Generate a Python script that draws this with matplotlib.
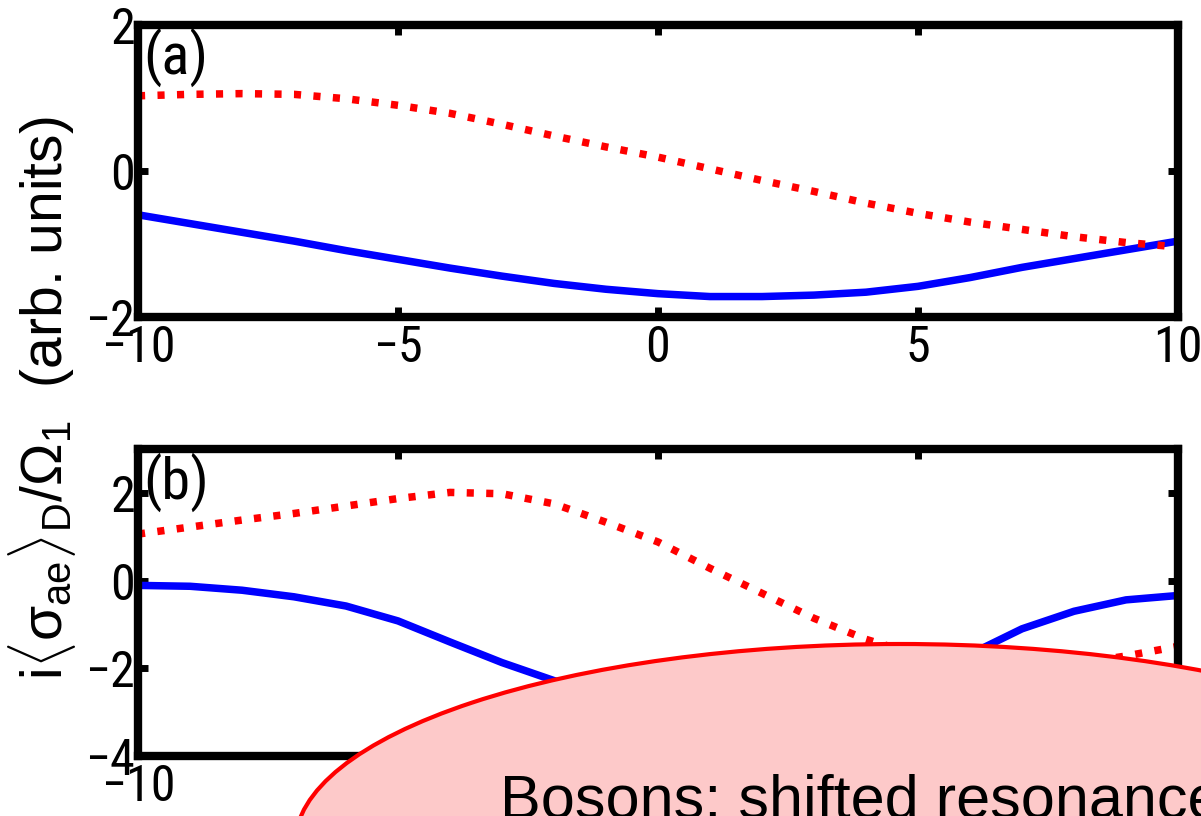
import os
import matplotlib
matplotlib.use('Agg')
import matplotlib.pyplot as plt
from matplotlib import font_manager as fm
from matplotlib.patches import Ellipse

# ---- data ----
x_vals = [-10, -9, -8, -7, -6, -5, -4, -3, -2, -1, 0, 1, 2, 3, 4, 5, 6, 7, 8, 9, 10]
a_red = [1.03, 1.05, 1.06, 1.05, 0.99, 0.90, 0.79, 0.64, 0.48, 0.33, 0.19,
         0.03, -0.13, -0.28, -0.44, -0.58, -0.70, -0.80, -0.90, -0.98, -1.04]
a_blue = [-0.60, -0.72, -0.84, -0.96, -1.09, -1.21, -1.33, -1.44, -1.54, -1.62, -1.68,
          -1.72, -1.72, -1.70, -1.66, -1.58, -1.46, -1.32, -1.20, -1.08, -0.96]
b_red = [1.06, 1.22, 1.38, 1.53, 1.70, 1.87, 2.01, 1.98, 1.75, 1.33, 0.88,
         0.28, -0.29, -0.86, -1.34, -1.70, -1.90, -1.95, -1.90, -1.72, -1.50]
b_blue = [-0.11, -0.13, -0.22, -0.37, -0.58, -0.92, -1.40, -1.87, -2.28, -2.65, -2.92,
          -3.08, -3.12, -3.02, -2.75, -2.25, -1.68, -1.10, -0.70, -0.44, -0.34]
x_ticks = [-10, -5, 0, 5, 10]
a_xticklabels = ['\u221210', '\u22125', '0', '5', '10']
b_xticklabels = ['\u221210', '', '', '', '']   # the rest are hidden under the callout
a_yticks = [-2, 0, 2]
b_yticks = [-4, -2, 0, 2]
a_ylim = (-2, 2)
b_ylim = (-4, 3)
panel_labels = ['(a)', '(b)']
ylabel = r'i$\langle\sigma_{ae}\rangle_D/\Omega_1$  (arb. units)'
callout = 'Bosons: shifted resonance'

SANS = ['Liberation Sans', 'DejaVu Sans']
plt.rcParams['font.family'] = SANS
plt.rcParams['mathtext.fontset'] = 'custom'
plt.rcParams['mathtext.rm'] = 'Liberation Sans'
plt.rcParams['mathtext.it'] = 'Liberation Sans'
plt.rcParams['mathtext.sf'] = 'Liberation Sans'


def find_narrow_font():
    """Pick an installed narrow/condensed regular sans font, if any."""
    bad = ('bold', 'italic', 'oblique', 'light', 'medium', 'black', 'thin',
           'extra', 'semibold', 'heavy', 'mono', 'serif', 'cjk')
    prefs = ('liberation', 'arial', 'roboto', 'opensans', 'open', 'noto', 'dejavu', 'lato', 'inter')
    cands = []
    for f in fm.fontManager.ttflist:
        base = os.path.basename(f.fname).lower()
        if not ('narrow' in base or 'condensed' in base or
                str(f.stretch) in ('condensed', 'semi-condensed')):
            continue
        stem = base.replace('semicondensed', '').replace('condensed', '').replace('narrow', '')
        if any(b in stem for b in bad):
            continue
        if 'serif' in f.name.lower() and 'sans' not in f.name.lower():
            continue
        rank = len(prefs)
        for i, p in enumerate(prefs):
            if p in base.replace('-', '').replace('_', ''):
                rank = i
                break
        cands.append((rank, base, f.fname))
    if cands:
        cands.sort()
        return fm.FontProperties(fname=cands[0][2]), True
    return fm.FontProperties(family='Liberation Sans'), False


narrow_fp, is_narrow = find_narrow_font()
tick_size = 36 if is_narrow else 30
lab_size = 42 if is_narrow else 34

W, H = 1201, 816
fig = plt.figure(figsize=(W / 100, H / 100), dpi=100)


def px_axes(left, top, right, bottom):
    return fig.add_axes([left / W, 1 - bottom / H, (right - left) / W, (bottom - top) / H])


ax_a = px_axes(138, 25, 1178, 317)
ax_b = px_axes(138, 449, 1178, 756)

for ax, red, blue, ylim, yt, xtl, lab in [
        (ax_a, a_red, a_blue, a_ylim, a_yticks, a_xticklabels, panel_labels[0]),
        (ax_b, b_red, b_blue, b_ylim, b_yticks, b_xticklabels, panel_labels[1])]:
    ax.plot(x_vals, blue, color='#0000ff', lw=5.4, solid_capstyle='butt')
    ax.plot(x_vals, red, color='#ff0000', lw=5.4, ls=(0, (0.95, 1.65)),
            dash_capstyle='butt')
    ax.set_xlim(-10, 10)
    ax.set_ylim(*ylim)
    ax.set_xticks(x_ticks)
    ax.set_xticklabels(xtl)
    ax.set_yticks(yt)
    ax.set_yticklabels([str(v).replace('-', '\u2212') for v in yt])
    for s in ax.spines.values():
        s.set_linewidth(6.0)
    ax.tick_params(direction='in', length=7, width=5, top=True, right=True,
                   colors='black')
    ax.tick_params(axis='x', pad=5)
    ax.tick_params(axis='y', pad=2)
    for t in ax.get_xticklabels() + ax.get_yticklabels():
        t.set_fontproperties(narrow_fp)
        t.set_fontsize(tick_size)
    ax.text(0.005, 0.99, lab, transform=ax.transAxes, ha='left', va='top',
            fontproperties=narrow_fp, fontsize=lab_size)

fig.text(42 / W, 1 - 398 / H, ylabel, rotation=90, ha='center', va='center',
         fontsize=41, family=SANS)

ell = Ellipse((900 / W, 1 - 844 / H), 1210 / W, 400 / H, transform=fig.transFigure,
              facecolor='#fdc9c9', edgecolor='#ff0000', lw=3, zorder=10)
fig.patches.append(ell)
fig.text(500 / W, 1 - 818 / H, callout, ha='left', va='baseline', fontsize=44,
         family=SANS, zorder=11)

fig.savefig('out.png', dpi=100)
